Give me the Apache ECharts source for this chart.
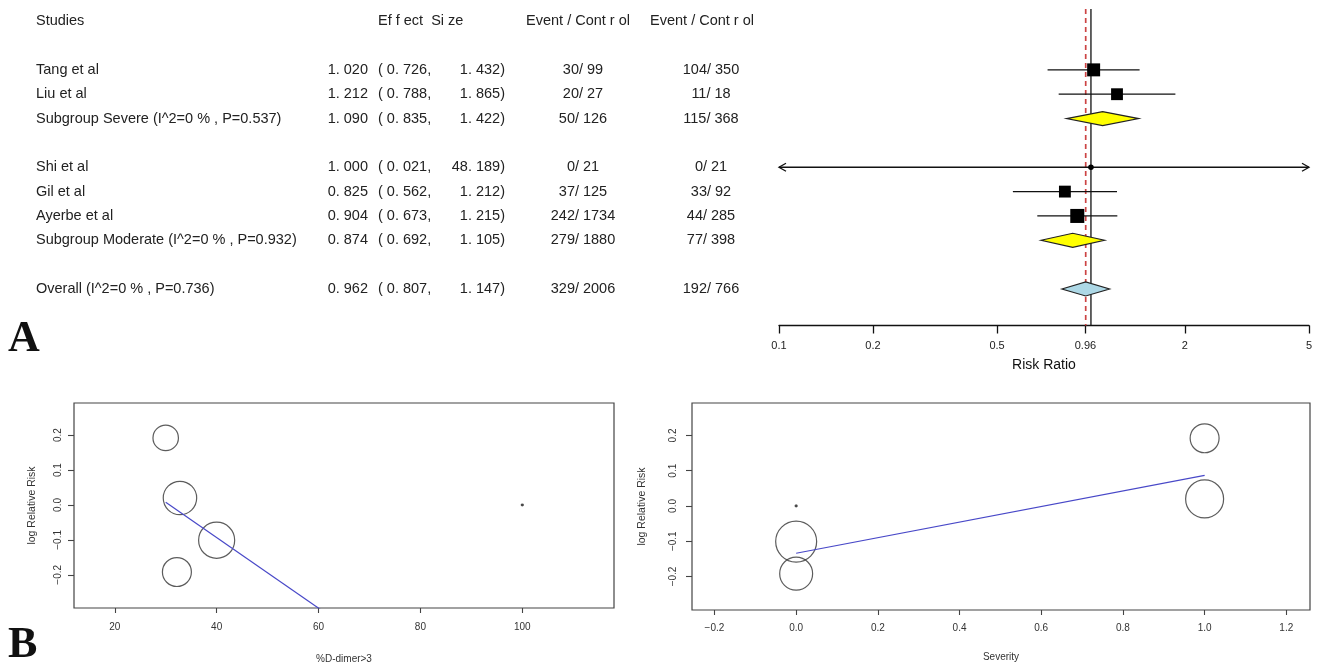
<!DOCTYPE html>
<html><head><meta charset="utf-8">
<script src="https://cdn.jsdelivr.net/npm/echarts@6/dist/echarts.min.js"></script>
<style>html,body{margin:0;padding:0;background:#fff}#c{width:1317px;height:665px}</style>
</head><body><div id="c"></div>
<script>
// ---------- Forest plot data ----------
const studies = ['Tang et al','Liu et al','Subgroup Severe (I^2=0 % , P=0.537)','Shi et al','Gil et al','Ayerbe et al','Subgroup Moderate (I^2=0 % , P=0.932)','Overall (I^2=0 % , P=0.736)'];
const rowIndex = [2,3,4,6,7,8,9,11];
const rowKind = [0,0,1,0,0,0,1,2]; // 0 study, 1 subgroup, 2 overall
const rr = [1.020,1.212,1.090,1.000,0.825,0.904,0.874,0.962];
const rrLow = [0.726,0.788,0.835,0.021,0.562,0.673,0.692,0.807];
const rrHigh = [1.432,1.865,1.422,48.189,1.212,1.215,1.105,1.147];
const eventsExp = [30,20,50,0,37,242,279,329];
const totalExp = [99,27,126,21,125,1734,1880,2006];
const eventsCtl = [104,11,115,0,33,44,77,192];
const totalCtl = [350,18,368,21,92,285,398,766];
const forestWeight = [24,20,0,0.3,20,28,0,0];
const tableHeaders = ['Studies','Ef f ect  Si ze','Event / Cont r ol','Event / Cont r ol'];
const rrTicks = [0.1,0.2,0.5,0.96,2,5];
const rrTickLabels = ['0.1','0.2','0.5','0.96','2','5'];
const pooledRR = 0.962;
const nullRR = 1;

// ---------- Meta-regression data (Liu, Tang, Ayerbe, Gil, Shi) ----------
const dimerPct = [30,32.8,40,32.2,100];
const severity = [1,1,0,0,0];
const logRR = [0.192,0.020,-0.101,-0.192,0.0];
const regWeight = [16.6,28.6,33.3,21.5,0.05];
const dimerFit = [[30,0.008],[100,-0.70]];
const severityFit = [[0,-0.134],[1,0.087]];
const dimerTicks = [20,40,60,80,100];
const severityTicks = [-0.2,0,0.2,0.4,0.6,0.8,1.0,1.2];
const logRRTicks = [-0.2,-0.1,0,0.1,0.2];

// ---------- layout constants ----------
const FONT = '"Liberation Sans", Arial, sans-serif';
const colX = {study:36, est:368, lo:378, hi:505, evA:583, evB:711};
const headerX = [36,378,578,702];
const headerAlign = ['left','left','center','center'];

const L10 = Math.log10;
const fmt3 = v => v.toFixed(3).replace('.', '. ');
const fmtAxis = v => (v < -1e-9 ? '\u2212' : '') + Math.abs(v).toFixed(1);

const forestData = rr.map((v,i)=>[rowIndex[i], L10(v), L10(rrLow[i]), L10(rrHigh[i]), rowKind[i], forestWeight[i]]);
const tableData = [[0,-1]].concat(rowIndex.map((r,i)=>[r,i]));

function renderForest(params, api){
  const row=api.value(0), e=api.value(1), lo=api.value(2), hi=api.value(3), kind=api.value(4), w=api.value(5);
  const cs=params.coordSys;
  const pe=api.coord([e,row]); const y=pe[1], xe=pe[0];
  let xl=api.coord([lo,row])[0], xh=api.coord([hi,row])[0];
  const ch=[];
  const st={stroke:'#111',lineWidth:1.3};
  if(kind===0){
    const lc=xl<cs.x, rc=xh>cs.x+cs.width;
    xl=Math.max(xl,cs.x); xh=Math.min(xh,cs.x+cs.width);
    ch.push({type:'line',shape:{x1:xl,y1:y,x2:xh,y2:y},style:st});
    if(lc) ch.push({type:'polyline',shape:{points:[[xl+7,y-4],[xl,y],[xl+7,y+4]]},style:{stroke:'#111',fill:null,lineWidth:1.3}});
    if(rc) ch.push({type:'polyline',shape:{points:[[xh-7,y-4],[xh,y],[xh-7,y+4]]},style:{stroke:'#111',fill:null,lineWidth:1.3}});
    const s=2.65*Math.sqrt(w);
    if(s<6) ch.push({type:'circle',shape:{cx:xe,cy:y,r:2.8},style:{fill:'#000'}});
    else ch.push({type:'rect',shape:{x:xe-s/2,y:y-s/2,width:s,height:s},style:{fill:'#000'}});
  } else {
    ch.push({type:'polygon',shape:{points:[[xl,y],[xe,y-7],[xh,y],[xe,y+7]]},
      style:{fill:kind===1?'#ffff00':'#add8e6',stroke:'#222',lineWidth:1.2}});
  }
  return {type:'group',children:ch};
}

function txt(text,x,y,align){
  return {type:'text',style:{text:text,x:x,y:y,align:align,verticalAlign:'middle',fontSize:14.5,fontFamily:FONT,fill:'#222'}};
}
function renderTable(params, api){
  const row=api.value(0), i=api.value(1);
  const y=api.coord([0,row])[1];
  const X=v=>api.coord([v,row])[0];
  const ch=[];
  if(i<0){
    tableHeaders.forEach((h,k)=>ch.push(txt(h,X(headerX[k]),y,headerAlign[k])));
  } else {
    ch.push(txt(studies[i],X(colX.study),y,'left'));
    ch.push(txt(fmt3(rr[i]),X(colX.est),y,'right'));
    ch.push(txt('( '+fmt3(rrLow[i])+',',X(colX.lo),y,'left'));
    ch.push(txt(fmt3(rrHigh[i])+')',X(colX.hi),y,'right'));
    ch.push(txt(eventsExp[i]+'/ '+totalExp[i],X(colX.evA),y,'center'));
    ch.push(txt(eventsCtl[i]+'/ '+totalCtl[i],X(colX.evB),y,'center'));
  }
  return {type:'group',children:ch};
}

const rrTickLog = rrTicks.map(L10);
function rrLabel(v){const k=rrTickLog.findIndex(t=>Math.abs(t-v)<1e-6);return k>=0?rrTickLabels[k]:'';}

function bottomX(grid,min,max,ticks,name,fmt,margin,gap){
  return {gridIndex:grid,type:'value',min:min,max:max,position:'bottom',
    axisLine:{show:false,onZero:false},splitLine:{show:false},
    axisTick:{show:true,customValues:ticks,length:5,lineStyle:{color:'#444',width:1.1}},
    axisLabel:{customValues:ticks,formatter:fmt,fontSize:10,fontFamily:FONT,color:'#333',margin:margin},
    name:name,nameLocation:'middle',nameGap:gap,nameTextStyle:{fontSize:10,fontFamily:FONT,color:'#333'}};
}
function bottomY(grid,margin,gap){
  return {gridIndex:grid,type:'value',min:-0.295,max:0.292,position:'left',
    axisLine:{show:false,onZero:false},splitLine:{show:false},
    axisTick:{show:true,customValues:logRRTicks,length:6,lineStyle:{color:'#444',width:1.1}},
    axisLabel:{customValues:logRRTicks,formatter:fmtAxis,rotate:90,fontSize:10,fontFamily:FONT,color:'#333',margin:margin},
    name:'log Relative Risk',nameLocation:'middle',nameRotate:90,nameGap:gap,nameTextStyle:{fontSize:10.5,fontFamily:FONT,color:'#333'}};
}
const bubbleStyle={color:p=>p.value[2]<1?'#333':'rgba(0,0,0,0)',borderColor:'#333',borderWidth:1.2};

const option={
  animation:false,
  backgroundColor:'#fff',
  grid:[
    {left:779,width:530,top:9,height:316.5},
    {left:0,width:1317,top:9,height:316.5},
    {left:74,top:403,width:540,height:207,show:true,borderColor:'#444',borderWidth:1.2},
    {left:692,top:403,width:618,height:207,show:true,borderColor:'#444',borderWidth:1.2}
  ],
  xAxis:[
    {gridIndex:0,type:'value',min:-1,max:L10(5),position:'bottom',
      axisLine:{show:true,onZero:false,lineStyle:{color:'#111',width:1.3}},
      axisTick:{show:true,customValues:rrTickLog,length:8,lineStyle:{color:'#111',width:1.3}},
      axisLabel:{customValues:rrTickLog,formatter:rrLabel,fontSize:11,fontFamily:FONT,color:'#222',margin:15},
      splitLine:{show:false},
      name:'Risk Ratio',nameLocation:'middle',nameGap:33,nameTextStyle:{fontSize:14,fontFamily:FONT,color:'#111'}},
    {gridIndex:1,type:'value',min:0,max:1317,show:false},
    bottomX(2,12,118,dimerTicks,'%D-dimer>3',v=>String(v),14,46),
    bottomX(3,-0.255,1.258,severityTicks,'Severity',fmtAxis,13,42)
  ],
  yAxis:[
    {gridIndex:0,type:'value',min:-0.5,max:12.5,inverse:true,show:false},
    {gridIndex:1,type:'value',min:-0.5,max:12.5,inverse:true,show:false},
    bottomY(2,11,36),
    bottomY(3,14,44)
  ],
  series:[
    {type:'line',xAxisIndex:0,yAxisIndex:0,data:[[L10(nullRR),-0.5],[L10(nullRR),12.5]],symbol:'none',
      lineStyle:{color:'#111',width:1.3},z:1,silent:true},
    {type:'line',xAxisIndex:0,yAxisIndex:0,data:[[L10(pooledRR),-0.5],[L10(pooledRR),12.5]],symbol:'none',
      lineStyle:{color:'#cc4444',width:1.7,type:[5,4]},z:1,silent:true},
    {type:'custom',xAxisIndex:0,yAxisIndex:0,data:forestData,renderItem:renderForest,z:3,clip:false,silent:true},
    {type:'custom',xAxisIndex:1,yAxisIndex:1,data:tableData,renderItem:renderTable,z:3,clip:false,silent:true},
    {type:'scatter',xAxisIndex:2,yAxisIndex:2,data:dimerPct.map((x,i)=>[x,logRR[i],regWeight[i]]),
      symbolSize:v=>Math.max(2,6.25*Math.sqrt(v[2])),itemStyle:bubbleStyle,silent:true},
    {type:'line',xAxisIndex:2,yAxisIndex:2,data:dimerFit,symbol:'none',clip:true,lineStyle:{color:'#4848c8',width:1.2},silent:true},
    {type:'scatter',xAxisIndex:3,yAxisIndex:3,data:severity.map((x,i)=>[x,logRR[i],regWeight[i]]),
      symbolSize:v=>Math.max(2,7.1*Math.sqrt(v[2])),itemStyle:bubbleStyle,silent:true},
    {type:'line',xAxisIndex:3,yAxisIndex:3,data:severityFit,symbol:'none',clip:true,lineStyle:{color:'#4848c8',width:1.2},silent:true}
  ],
  graphic:[
    {type:'text',left:8,top:318,style:{text:'A',fontSize:44,fontWeight:'bold',fontFamily:'"Liberation Serif", "DejaVu Serif", serif',fill:'#111'}},
    {type:'text',left:8,top:624,style:{text:'B',fontSize:44,fontWeight:'bold',fontFamily:'"Liberation Serif", "DejaVu Serif", serif',fill:'#111'}}
  ]
};
const chart=echarts.init(document.getElementById('c'),null,{renderer:'canvas'});
chart.setOption(option);
</script>
</body></html>
